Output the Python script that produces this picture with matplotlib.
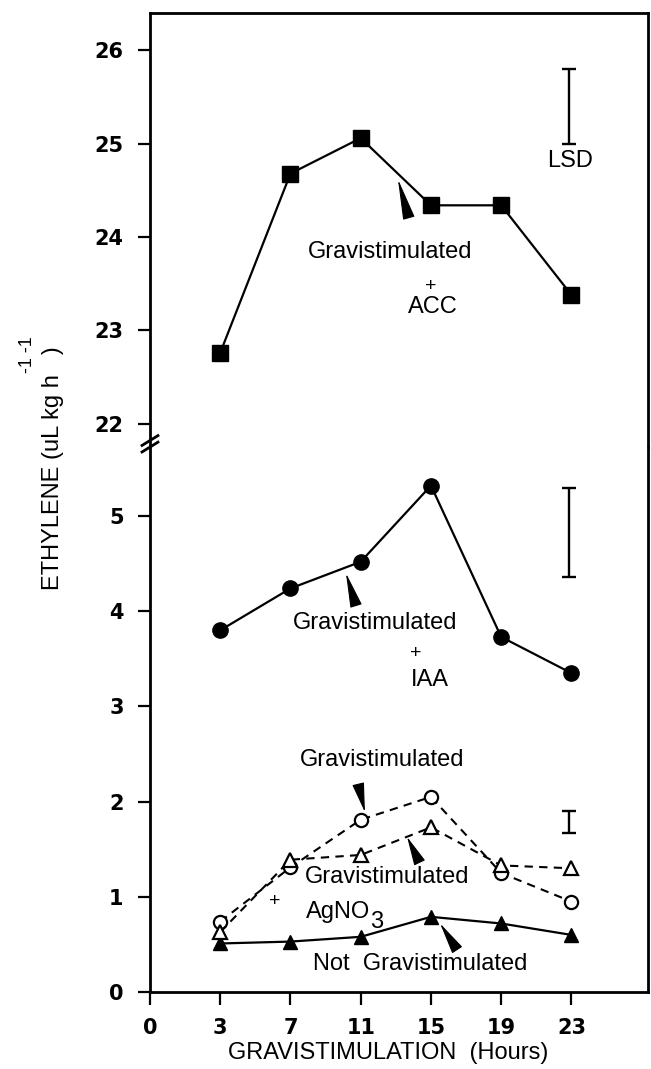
import numpy as np
import matplotlib
matplotlib.use("Agg")
import matplotlib.pyplot as plt

plt.rcParams["font.family"] = ["Liberation Sans", "DejaVu Sans"]

# hours are drawn as evenly spaced categories, like the original figure
hour_labels = ["0", "3", "7", "11", "15", "19", "23"]
hours = ["3", "7", "11", "15", "19", "23"]

acc = [22.76, 24.68, 25.06, 24.34, 24.34, 23.38]      # gravistimulated + ACC
iaa = [3.80, 4.24, 4.52, 5.32, 3.73, 3.35]            # gravistimulated + IAA
grav = [0.74, 1.31, 1.81, 2.05, 1.25, 0.95]           # gravistimulated
agno3 = [0.63, 1.39, 1.44, 1.73, 1.33, 1.30]          # gravistimulated + AgNO3
not_grav = [0.51, 0.53, 0.58, 0.79, 0.72, 0.60]       # not gravistimulated

# LSD bars (low, high)
lsd_acc = (25.0, 25.8)
lsd_iaa = (4.36, 5.30)
lsd_low = (1.67, 1.90)

x = [hour_labels.index(h) for h in hours]
lsd_x = 5.97

fig = plt.figure(figsize=(6.51, 10.69), dpi=100)
ax1 = fig.add_axes([0.2304, 0.5818, 0.765, 0.406])
ax2 = fig.add_axes([0.2304, 0.0720, 0.765, 0.5098])

tick_font = dict(family="DejaVu Sans", weight="bold", size=15)
txt = dict(fontsize=17, ha="center", va="center")
plus = dict(fontsize=14, ha="center", va="center")

# ---- top panel
ax1.plot(x, acc, color="k", lw=1.6, marker="s", ms=11)
ax1.errorbar([lsd_x], [np.mean(lsd_acc)], yerr=[(lsd_acc[1] - lsd_acc[0]) / 2],
             fmt="none", ecolor="k", elinewidth=1.7, capsize=5, capthick=1.7)
ax1.text(lsd_x + 0.01, 24.81, "LSD", **txt)
ax1.text(3.42, 23.84, "Gravistimulated", **txt)
ax1.text(4.00, 23.47, "+", **plus)
ax1.text(4.03, 23.25, "ACC", **txt)

# ---- bottom panel
ax2.plot(x, iaa, color="k", lw=1.6, marker="o", ms=11)
ax2.plot(x, not_grav, color="k", lw=1.6, marker="^", ms=10)
ax2.plot(x, grav, color="k", lw=1.5, ls=(0, (4, 3)), marker="o", ms=9.5,
         mfc="white", mew=1.6)
ax2.plot(x, agno3, color="k", lw=1.5, ls=(0, (4, 3)), marker="^", ms=9.5,
         mfc="white", mew=1.6)
for lo, hi in [lsd_iaa, lsd_low]:
    ax2.errorbar([lsd_x], [(lo + hi) / 2], yerr=[(hi - lo) / 2], fmt="none",
                 ecolor="k", elinewidth=1.7, capsize=5, capthick=1.7)

ax2.text(3.21, 3.88, "Gravistimulated", **txt)
ax2.text(3.79, 3.56, "+", **plus)
ax2.text(3.99, 3.28, "IAA", **txt)
ax2.text(3.30, 2.44, "Gravistimulated", **txt)
ax2.text(3.38, 1.21, "Gravistimulated", **txt)
ax2.text(1.78, 0.95, "+", **plus)
ax2.text(2.68, 0.84, "AgNO", **txt)
ax2.text(3.23, 0.735, "3", **txt)
ax2.text(3.85, 0.29, "Not  Gravistimulated", **txt)

# arrowheads (tip in data coords, back end as offset in points)
def head(ax, tip, off):
    length = np.hypot(*off)
    ax.annotate("", xy=tip, xytext=off, textcoords="offset points",
                arrowprops=dict(arrowstyle="-|>,head_length=%.2f,head_width=0.19"
                                % (length / 20), mutation_scale=20,
                                color="k", lw=0.8, shrinkA=0, shrinkB=0))

head(ax1, (3.53, 24.62), (7, -25))
head(ax2, (2.79, 4.40), (6.5, -21))
head(ax2, (3.06, 1.89), (-4.3, 18))
head(ax2, (3.66, 1.63), (8, -16.5))
head(ax2, (4.13, 0.72), (11, -17))

# ---- axes styling
ax1.set_xlim(0, 7.09)
ax2.set_xlim(0, 7.09)
ax1.set_ylim(21.75, 26.40)
ax2.set_ylim(0, 5.725)
ax1.set_yticks([22, 23, 24, 25, 26])
ax2.set_yticks([0, 1, 2, 3, 4, 5])
ax1.set_xticks([])
ax2.set_xticks(range(len(hour_labels)))
ax2.set_xticklabels(hour_labels)

for ax in (ax1, ax2):
    for s in ax.spines.values():
        s.set_linewidth(2)
    ax.tick_params(direction="out", length=9, width=1.6, pad=10)
    for lab in ax.get_yticklabels() + ax.get_xticklabels():
        lab.set_fontproperties(tick_font)
ax1.spines["bottom"].set_visible(False)
ax2.spines["top"].set_visible(False)

# axis break marks
for dy in (0.012, 0.0):
    ax2.plot([-0.016, 0.016], [1 - 0.009 + dy, 1 + 0.009 + dy], color="k",
             lw=2, transform=ax2.transAxes, clip_on=False)

fig.text(53 / 651, 1 - 468 / 1069, "ETHYLENE (uL kg h   )", rotation=90,
         fontsize=17, ha="center", va="center")
fig.text(27 / 651, 1 - 355 / 1069, "-1 -1", rotation=90, fontsize=13,
         ha="center", va="center")
fig.text(388 / 651, 1 - 1053 / 1069, "GRAVISTIMULATION  (Hours)", fontsize=17,
         ha="center", va="center")

fig.savefig("out.png", dpi=100)
